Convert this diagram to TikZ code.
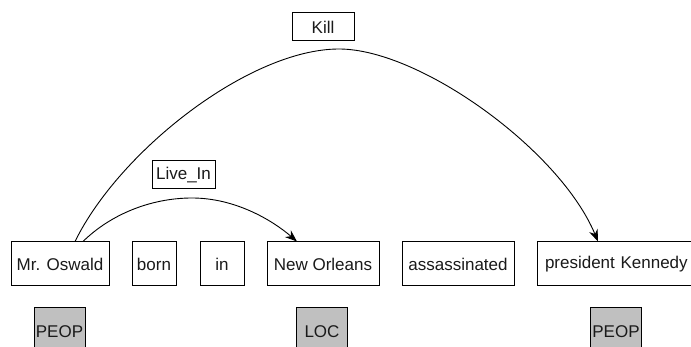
\documentclass[tikz,border=0pt]{standalone}
\usepackage{fontspec}
\setmainfont{Liberation Sans}
\usetikzlibrary{arrows.meta}
\definecolor{labgray}{HTML}{C0C0C0}
\definecolor{txt}{HTML}{1A1A1A}
\tikzset{
  word/.style={draw=black, line width=1pt, rectangle, minimum height=44pt, inner sep=0pt, text=txt, font=\fontsize{17}{20}\selectfont},
  tag/.style={draw=black, line width=1pt, fill=labgray, rectangle, minimum width=51pt, minimum height=48pt, inner sep=0pt, text=txt, font=\fontsize{17}{20}\selectfont},
  rel/.style={draw=black, line width=1pt, rectangle, minimum height=28pt, inner sep=0pt, text=txt, font=\fontsize{17}{20}\selectfont},
  arc/.style={draw=black, line width=0.9pt, -{Stealth[length=12pt,width=9pt]}}
}
\begin{document}
\begin{tikzpicture}[x=1pt,y=-1pt]
\clip (0,0) rectangle (691,347);
\fill[white] (0,0) rectangle (691,347);
% words
\node[word, minimum width=98pt] (o) at (60,264) {Mr. Oswald};
\node[word, minimum width=44pt] (b) at (154,264) {born};
\node[word, minimum width=44pt] (i) at (222,264) {in};
\node[word, minimum width=112pt] (n) at (323,264) {New Orleans};
\node[word, minimum width=112pt] (a) at (458,264) {assassinated};
\node[word, minimum width=164pt, text width=148pt, align=left] (k) at (619,264) {president Kennedy};
% tags
\node[tag] (t1) at (59.5,332) {PEOP};
\node[tag] (t2) at (322,332) {LOC};
\node[tag] (t3) at (616,332) {PEOP};
% relation labels
\node[rel, minimum width=62pt] (kill) at (323,27) {Kill};
\node[rel, minimum width=63pt] (live) at (183.5,175) {Live\_In};
% peaks
\coordinate (kp) at (339,49);
\coordinate (lp) at (192,198);
% arcs
\draw[arc] ([xshift=15pt]o.north) .. controls (120,150) and (250,49) .. (kp)
  .. controls (420,49) and (560,150) .. ([xshift=-21pt]k.north);
\draw[arc] ([xshift=23pt]o.north) .. controls (110,215) and (150,198) .. (lp)
  .. controls (235,198) and (272,220) .. ([xshift=-26pt]n.north);
\end{tikzpicture}
\end{document}
